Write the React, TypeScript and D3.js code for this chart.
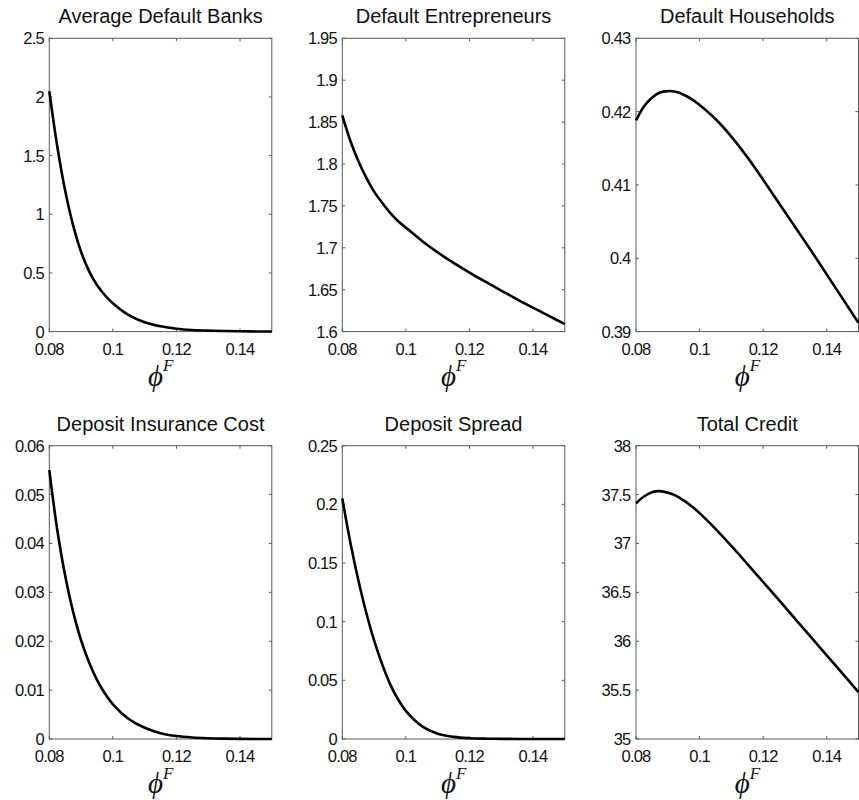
import React from "react";
import * as d3 from "d3";

const phiF = [0.08, 0.0825, 0.085, 0.0875, 0.09, 0.0925, 0.095, 0.0975, 0.1, 0.105, 0.11, 0.115, 0.12, 0.125, 0.13, 0.135, 0.14, 0.145, 0.15];

const defaultBanks = [2.05, 1.58, 1.2, 0.905, 0.68, 0.516, 0.398, 0.31, 0.241, 0.14, 0.08, 0.045, 0.025, 0.014, 0.008, 0.0045, 0.0025, 0.0014, 0.0008];
const defaultEntrepreneurs = [1.858, 1.828, 1.804, 1.784, 1.767, 1.754, 1.742, 1.732, 1.724, 1.7085, 1.6945, 1.682, 1.6705, 1.6595, 1.649, 1.6385, 1.6285, 1.6187, 1.609];
const defaultHouseholds = [0.4188, 0.4207, 0.4219, 0.4226, 0.4228, 0.4227, 0.4223, 0.4217, 0.4209, 0.419, 0.4166, 0.4138, 0.4107, 0.4075, 0.4043, 0.4011, 0.3978, 0.3945, 0.3912];
const depositInsuranceCost = [0.055, 0.0428, 0.0334, 0.026, 0.0202, 0.0157, 0.0121, 0.0093, 0.0071, 0.0041, 0.0023, 0.0012, 0.0006, 0.0003, 0.00015, 0.00007, 0.00003, 0.00001, 0];
const depositSpread = [0.205, 0.168, 0.136, 0.108, 0.084, 0.064, 0.047, 0.034, 0.024, 0.011, 0.0045, 0.0018, 0.0007, 0.0003, 0.0001, 0.00005, 0.00002, 0.00001, 0];
const totalCredit = [37.41, 37.48, 37.525, 37.535, 37.52, 37.49, 37.44, 37.38, 37.31, 37.15, 36.975, 36.792, 36.606, 36.42, 36.232, 36.044, 35.856, 35.668, 35.48];

const titles = ["Average Default Banks", "Default Entrepreneurs", "Default Households", "Deposit Insurance Cost", "Deposit Spread", "Total Credit"];
const xTicks = [0.08, 0.1, 0.12, 0.14];
const yTicksBanks = [0, 0.5, 1, 1.5, 2, 2.5];
const yTicksEntre = [1.6, 1.65, 1.7, 1.75, 1.8, 1.85, 1.9, 1.95];
const yTicksHouse = [0.39, 0.4, 0.41, 0.42, 0.43];
const yTicksDIC = [0, 0.01, 0.02, 0.03, 0.04, 0.05, 0.06];
const yTicksSpread = [0, 0.05, 0.1, 0.15, 0.2, 0.25];
const yTicksCredit = [35, 35.5, 36, 36.5, 37, 37.5, 38];

const series = [defaultBanks, defaultEntrepreneurs, defaultHouseholds, depositInsuranceCost, depositSpread, totalCredit];
const yTickSets = [yTicksBanks, yTicksEntre, yTicksHouse, yTicksDIC, yTicksSpread, yTicksCredit];

const colLefts = [49.3, 342.3, 636];
const rowTops = [38.3, 445.7];
const PW = 222.5;
const PH = 293.3;

const fmt = (v: number) => String(+v.toFixed(4));

function Panel({ idx }: { idx: number }) {
  const left = colLefts[idx % 3];
  const top = rowTops[Math.floor(idx / 3)];
  const yt = yTickSets[idx];
  const x = d3.scaleLinear().domain([0.08, 0.15]).range([left, left + PW]);
  const y = d3.scaleLinear().domain([yt[0], yt[yt.length - 1]]).range([top + PH, top]);
  const data = series[idx];
  const line = d3
    .line<number>()
    .x((_, i) => x(phiF[i]))
    .y((d) => y(d))
    .curve(d3.curveCatmullRom.alpha(0.5));
  const bottom = top + PH;
  const right = left + PW;
  const axisColor = "#5a5a5a";
  const tl = 3;
  const cx = left + PW / 2;
  const tickFont = { fontFamily: "Liberation Sans, Arial, sans-serif", fontSize: 16.5, letterSpacing: -0.8, fill: "#111" };
  return (
    <g>
      <text x={cx} y={top - 15} textAnchor="middle" fontFamily="Liberation Sans, Arial, sans-serif" fontSize={20} fill="#111">
        {titles[idx]}
      </text>
      <rect x={left} y={top} width={PW} height={PH} fill="none" stroke={axisColor} strokeWidth={1} />
      {xTicks.map((t) => (
        <g key={"x" + t}>
          <line x1={x(t)} x2={x(t)} y1={bottom} y2={bottom - tl} stroke={axisColor} />
          <line x1={x(t)} x2={x(t)} y1={top} y2={top + tl} stroke={axisColor} />
          <text x={x(t)} y={bottom + 23} textAnchor="middle" {...tickFont}>
            {fmt(t)}
          </text>
        </g>
      ))}
      {yt.map((t) => (
        <g key={"y" + t}>
          <line x1={left} x2={left + tl} y1={y(t)} y2={y(t)} stroke={axisColor} />
          <line x1={right} x2={right - tl} y1={y(t)} y2={y(t)} stroke={axisColor} />
          <text x={left - 5.5} y={y(t)} dy="0.36em" textAnchor="end" {...tickFont}>
            {fmt(t)}
          </text>
        </g>
      ))}
      <path d={line(data) || ""} fill="none" stroke="#000" strokeWidth={2.6} strokeLinejoin="round" />
      <text x={cx - 5} y={bottom + 54} textAnchor="middle" fontFamily="Liberation Serif, serif" fontStyle="italic" fontSize={29} fill="#111">
        {"\u03D5"}
      </text>
      <text x={cx + 2.5} y={bottom + 39.5} textAnchor="start" fontFamily="Liberation Serif, serif" fontStyle="italic" fontSize={17} fill="#111">
        F
      </text>
    </g>
  );
}

export default function App() {
  return (
    <svg width={859} height={800} viewBox="0 0 859 800" style={{ position: "absolute", left: 0, top: 0, background: "#fff" }}>
      <rect x={0} y={0} width={859} height={800} fill="#fff" />
      {[0, 1, 2, 3, 4, 5].map((i) => (
        <Panel key={i} idx={i} />
      ))}
    </svg>
  );
}
